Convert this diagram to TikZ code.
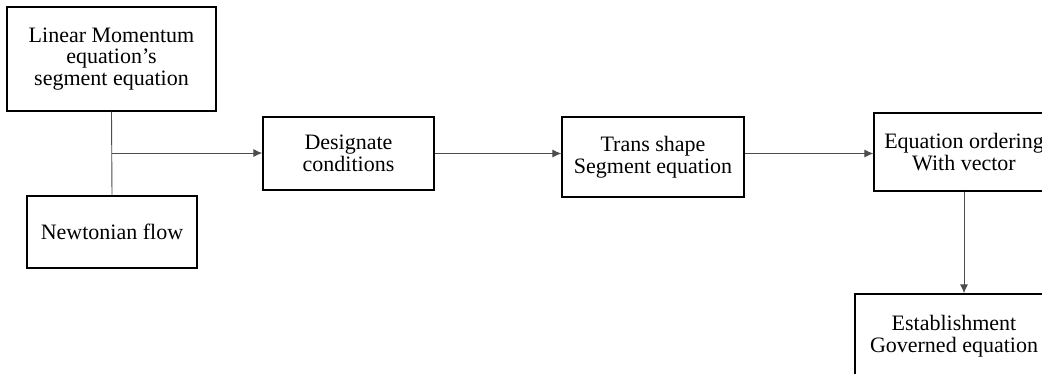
\documentclass[tikz,border=0pt]{standalone}
\usepackage{fontspec}
\setmainfont{Liberation Serif}
\usetikzlibrary{arrows.meta}

\begin{document}
\begin{tikzpicture}[x=1pt,y=-1pt,
  stepbox/.style={draw=black,line width=1.4pt,rectangle,inner sep=0pt,
    align=center,font=\fontsize{22}{21.5}\selectfont},
  link/.style={draw=black!70,line width=0.9pt},
  flow/.style={link,-{Latex[length=9pt,width=8pt]}}]
  \useasboundingbox (0,0) rectangle (1042,373);
  \clip (0,0) rectangle (1042,373);

  % process boxes
  \node[stepbox,minimum width=209pt,minimum height=104pt] (lin) at (111.5,59)
    {Linear Momentum\\equation’s\\segment equation};
  \node[stepbox,minimum width=170pt,minimum height=72pt] (newt) at (112,232)
    {Newtonian flow};
  \node[stepbox,minimum width=171pt,minimum height=73pt] (cond) at (348.5,153.5)
    {Designate\\conditions};
  \node[stepbox,minimum width=182pt,minimum height=80pt] (trans) at (653,157)
    {Trans shape\\Segment equation};
  \node[stepbox,minimum width=180pt,minimum height=78pt] (order) at (964,152)
    {Equation ordering\\With vector};
  \node[stepbox,minimum width=198pt,minimum height=84pt] (gov) at (954,336)
    {Establishment\\Governed equation};

  % connectors
  \draw[link] (lin.south) -- (newt.north);
  \coordinate (join) at (lin.south |- 0,153);
  \draw[flow] (join) -- (join -| cond.west);
  \draw[flow] (cond.east) -- (cond.east -| trans.west);
  \draw[flow] (trans.east |- cond.east) -- (order.west |- cond.east);
  \draw[flow] (order.south) -- (order.south |- gov.north);
\end{tikzpicture}
\end{document}
